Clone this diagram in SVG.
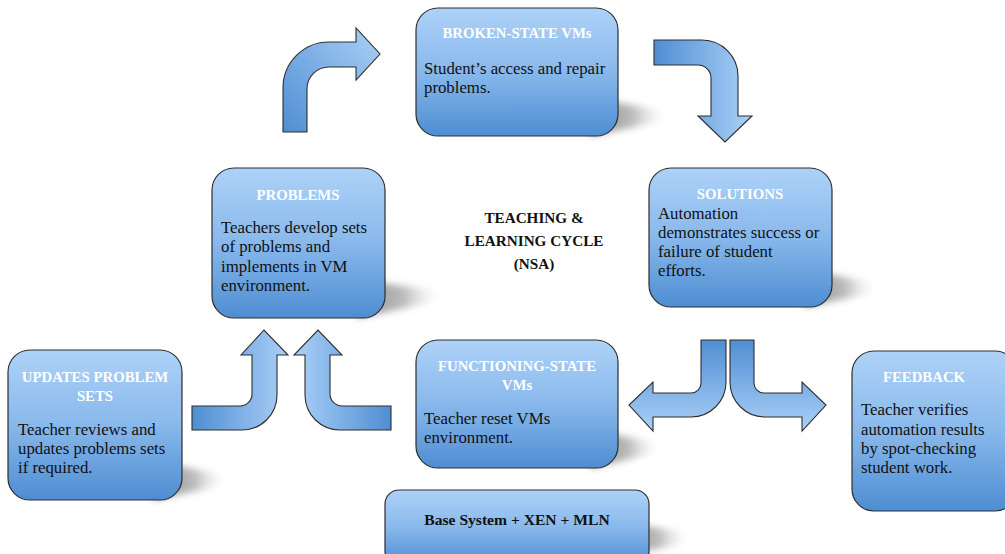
<svg xmlns="http://www.w3.org/2000/svg" width="1005" height="554" viewBox="0 0 1005 554">
<defs>
<linearGradient id="boxg" x1="0" y1="0" x2="0" y2="1">
<stop offset="0" stop-color="#aed2f8"/>
<stop offset="0.5" stop-color="#88b8eb"/>
<stop offset="1" stop-color="#4e8dd2"/>
</linearGradient>
<linearGradient id="gBL" x1="0" y1="1" x2="1" y2="0">
<stop offset="0" stop-color="#4f8ed3"/>
<stop offset="1" stop-color="#abd0f7"/>
</linearGradient>
<linearGradient id="gLR" x1="0" y1="0" x2="1" y2="0">
<stop offset="0" stop-color="#4f8ed3"/>
<stop offset="1" stop-color="#abd0f7"/>
</linearGradient>
<linearGradient id="gRL" x1="1" y1="0" x2="0" y2="0">
<stop offset="0" stop-color="#4f8ed3"/>
<stop offset="1" stop-color="#abd0f7"/>
</linearGradient>
<linearGradient id="gTB" x1="0" y1="0" x2="0" y2="1">
<stop offset="0" stop-color="#4f8ed3"/>
<stop offset="1" stop-color="#abd0f7"/>
</linearGradient>
<linearGradient id="shg" x1="0" y1="0" x2="1" y2="0">
<stop offset="0" stop-color="#8c8c8c"/>
<stop offset="0.6" stop-color="#bdbdbd"/>
<stop offset="1" stop-color="#eeeeee" stop-opacity="0.2"/>
</linearGradient>
<filter id="blur" x="-30%" y="-60%" width="160%" height="220%">
<feGaussianBlur stdDeviation="3.5"/>
</filter>
</defs>
<style>
.box{fill:url(#boxg);stroke:#2e2e2e;stroke-width:1.2}
.arr{stroke:#2e2e2e;stroke-width:1.1;stroke-linejoin:miter}
.sh{fill:url(#shg);filter:url(#blur)}
.ttl{font-family:"Liberation Serif",serif;font-weight:bold;font-size:14.8px;fill:#ffffff;text-anchor:middle}
.txt{font-family:"Liberation Serif",serif;font-size:16.8px;fill:#111111}
.ctr{font-family:"Liberation Serif",serif;font-weight:bold;font-size:15.2px;fill:#111111;text-anchor:middle}
</style>
<rect width="1005" height="554" fill="#ffffff"/>

<g id="connectors">
<path class="arr" fill="url(#gBL)" d="M283,132 L283,88 A46,46 0 0 1 329,42 L356,42 L356,28 L380,54 L356,80 L356,67 L329,67 A22,22 0 0 0 307,89 L307,132 Z"/>
<path class="arr" fill="url(#gLR)" d="M654,40 L702,40 A36,36 0 0 1 738,76 L738,116 L752,116 L725,142 L698,116 L711,116 L711,78 A13,13 0 0 0 698,65 L654,65 Z"/>
<path class="arr" fill="url(#gLR)" d="M192,406 L240,406 A12,12 0 0 0 252,394 L252,355 L241,355 L264,330 L288,355 L277,355 L277,395 A35,35 0 0 1 242,430 L192,430 Z"/>
<path class="arr" fill="url(#gRL)" d="M305,355 L294,355 L318,330 L342,355 L330,355 L330,394 A12,12 0 0 0 342,406 L391,406 L391,430 L340,430 A35,35 0 0 1 305,395 Z"/>
<path class="arr" fill="url(#gTB)" d="M701,340 L726,340 L726,382 A35,35 0 0 1 691,417 L653,417 L653,431 L629,405 L653,382 L653,393 L691,393 A10,10 0 0 0 701,383 Z"/>
<path class="arr" fill="url(#gTB)" d="M730,340 L754,340 L754,383 A10,10 0 0 0 764,393 L802,393 L802,382 L826,405 L802,431 L802,417 L765,417 A35,35 0 0 1 730,382 Z"/>
</g>

<g id="broken">
<path class="sh" d="M590,98 L662,110 L660,122 L590,136 Z"/>
<rect class="box" x="416" y="8" width="202" height="128" rx="22"/>
<text class="ttl" x="517" y="38">BROKEN-STATE VMs</text>
<text class="txt" x="424" y="74">Student’s access and repair</text>
<text class="txt" x="424" y="93">problems.</text>
</g>

<g id="problems">
<path class="sh" d="M357,280 L436,290 L434,302 L357,318 Z"/>
<rect class="box" x="212" y="168" width="173" height="150" rx="22"/>
<text class="ttl" x="298" y="200">PROBLEMS</text>
<text class="txt" x="221" y="233">Teachers develop sets</text>
<text class="txt" x="221" y="252">of problems and</text>
<text class="txt" x="221" y="272">implements in VM</text>
<text class="txt" x="221" y="291">environment.</text>
</g>

<g id="solutions">
<path class="sh" d="M804,270 L872,282 L870,294 L804,307 Z"/>
<rect class="box" x="649" y="168" width="183" height="139" rx="22"/>
<text class="ttl" x="740" y="199">SOLUTIONS</text>
<text class="txt" x="658" y="219">Automation</text>
<text class="txt" x="658" y="238">demonstrates success or</text>
<text class="txt" x="658" y="257">failure of student</text>
<text class="txt" x="658" y="276">efforts.</text>
</g>

<g id="functioning">
<path class="sh" d="M590,430 L655,442 L653,454 L590,468 Z"/>
<rect class="box" x="416" y="340" width="202" height="128" rx="22"/>
<text class="ttl" x="517" y="371">FUNCTIONING-STATE</text>
<text class="ttl" x="517" y="390">VMs</text>
<text class="txt" x="424" y="424">Teacher reset VMs</text>
<text class="txt" x="424" y="443">environment.</text>
</g>

<g id="updates">
<path class="sh" d="M154,462 L222,474 L220,486 L154,500 Z"/>
<rect class="box" x="8" y="350" width="174" height="150" rx="22"/>
<text class="ttl" x="95" y="382">UPDATES PROBLEM</text>
<text class="ttl" x="95" y="401">SETS</text>
<text class="txt" x="18" y="435">Teacher reviews and</text>
<text class="txt" x="18" y="454">updates problems sets</text>
<text class="txt" x="18" y="473">if required.</text>
</g>

<g id="feedback">
<rect class="box" x="852" y="351" width="165" height="160" rx="22"/>
<text class="ttl" x="924" y="382">FEEDBACK</text>
<text class="txt" x="861" y="415">Teacher verifies</text>
<text class="txt" x="861" y="435">automation results</text>
<text class="txt" x="861" y="454">by spot-checking</text>
<text class="txt" x="861" y="473">student work.</text>
</g>

<g id="base">
<path class="sh" d="M620,522 L685,532 L683,544 L620,556 Z"/>
<rect class="box" x="385" y="490" width="264" height="75" rx="14"/>
<text class="ctr" x="517" y="525" style="font-size:15.6px">Base System + XEN + MLN</text>
</g>

<g id="title">
<text class="ctr" x="534" y="223">TEACHING &amp;</text>
<text class="ctr" x="534" y="246">LEARNING CYCLE</text>
<text class="ctr" x="534" y="269">(NSA)</text>
</g>
</svg>
